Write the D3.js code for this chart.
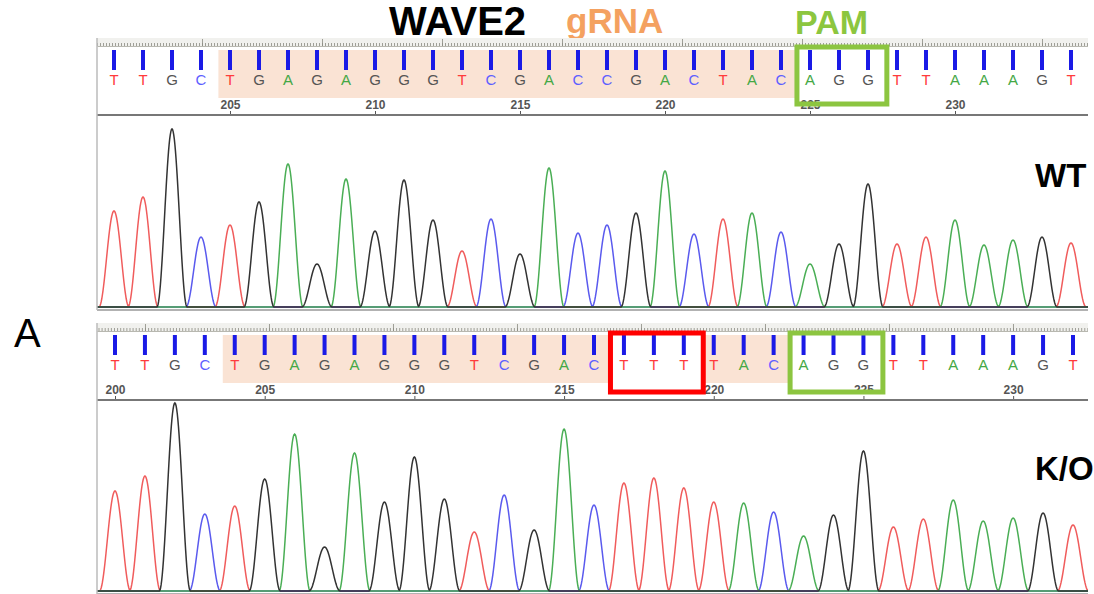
<!DOCTYPE html>
<html>
<head>
<meta charset="utf-8">
<script src="https://cdn.jsdelivr.net/npm/d3@7"></script>
<style>
body { margin: 0; background: #fff; }
svg { display: block; font-family: "Liberation Sans", Arial, sans-serif; }
</style>
</head>
<body>
<svg id="chart" width="1094" height="594"></svg>
<script>
// base calls and peak heights (arbitrary signal units)
var wtBases = "TTGCTGAGAGGGTCGACCGACTACAGGTTAAAGT".split("");
var wtHeights = [96, 110, 178, 70, 82, 105, 143, 43, 128, 76, 127, 87, 56, 88, 53, 139, 74,
                 82, 94, 136, 73, 88, 94, 75, 43, 63, 123, 63, 70, 87, 62, 67, 70, 64];
var wtStart = 201;
var wtTicks = [205, 210, 215, 220, 225, 230, 235];
var wtGuide = [[205, 224]];
var wtPam = [225, 227];

var koBases = "TTGCTGAGAGGGTCGACTTTTACAGGTTAAAGT".split("");
var koHeights = [100, 115, 188, 77, 85, 112, 157, 44, 138, 89, 134, 92, 59, 96, 61, 162, 86,
                 108, 113, 103, 89, 88, 79, 55, 76, 140, 64, 72, 91, 70, 73, 78, 66];
var koStart = 200;
var koTicks = [200, 205, 210, 215, 220, 225, 230];
var koGuide = [[204, 216], [220, 222]];
var koPam = [223, 225];
var koEdit = [217, 219];

var traceColor = {A: "#4aae55", C: "#5a5aee", G: "#333333", T: "#f05c5c"};
var letterColor = {A: "#45a845", C: "#5f5fff", G: "#555555", T: "#ff3b3b"};
var left = 97, right = 1088;

var svg = d3.select("#chart");

// titles
svg.append("text").attr("x", 389).attr("y", 35)
    .attr("font-size", 40).attr("font-weight", "bold").attr("fill", "#000")
    .text("WAVE2");
svg.append("text").attr("x", 566).attr("y", 33)
    .attr("font-size", 35).attr("font-weight", "bold").attr("fill", "#f4a160")
    .text("gRNA");
svg.append("text").attr("x", 795).attr("y", 34)
    .attr("font-size", 34).attr("font-weight", "bold").attr("fill", "#8cc63f")
    .text("PAM");
svg.append("text").attr("x", 14).attr("y", 347)
    .attr("font-size", 40).attr("fill", "#000")
    .text("A");

var panels = [
    {name: "wt", label: "WT", bases: wtBases, heights: wtHeights, start: wtStart, ticks: wtTicks,
     guide: wtGuide, pam: wtPam, edit: null, top: 42, base: 307, x0: 114, x1: 1071,
     box: [47, 104], scan0: 2912.5, pxPerScan: 1.2, labelY: 187},
    {name: "ko", label: "K/O", bases: koBases, heights: koHeights, start: koStart, ticks: koTicks,
     guide: koGuide, pam: koPam, edit: koEdit, top: 327, base: 591, x0: 115, x1: 1073,
     box: [333, 392], scan0: 2861.3, pxPerScan: 1.24, labelY: 480}
];

panels.forEach(drawPanel);

function drawPanel(p) {
    var T = p.top;
    var n = p.bases.length;
    var x = d3.scaleLinear().domain([p.start, p.start + n - 1]).range([p.x0, p.x1]);
    var y = d3.scaleLinear().domain([0, 200]).range([p.base, p.base - 200]);
    var sx = d3.scaleLinear()
        .domain([p.scan0, p.scan0 + (right - left) / p.pxPerScan])
        .range([left, right]);

    svg.append("clipPath").attr("id", "clip-" + p.name)
        .append("rect")
        .attr("x", left).attr("y", T - 6)
        .attr("width", right - left).attr("height", p.base - T + 10);

    var g = svg.append("g").attr("clip-path", "url(#clip-" + p.name + ")");

    // gRNA shading
    g.selectAll(".guide").data(p.guide).enter().append("rect")
        .attr("fill", "#fae3d4")
        .attr("x", function(d) { return x(d[0] - 0.4); })
        .attr("width", function(d) { return x(d[1] + 0.5) - x(d[0] - 0.4); })
        .attr("y", T + 8)
        .attr("height", 48);

    // scan ruler on top
    var sd = sx.domain();
    var minor = d3.range(Math.ceil(sd[0] / 2.5) * 2.5, sd[1], 2.5);
    var major = d3.range(Math.ceil(sd[0] / 100) * 100, sd[1], 100);
    g.append("rect").attr("x", left).attr("y", T - 4)
        .attr("width", right - left).attr("height", 8).attr("fill", "#f1f1ee");
    var r1 = g.append("g").attr("transform", "translate(0," + (T + 4) + ")")
        .call(d3.axisTop(sx).tickValues(minor).tickSize(3).tickSizeOuter(0).tickFormat(""));
    var r2 = g.append("g").attr("transform", "translate(0," + (T + 4) + ")")
        .call(d3.axisTop(sx).tickValues(major).tickSize(7).tickSizeOuter(0).tickFormat(""));
    [r1, r2].forEach(function(r) {
        r.selectAll(".tick line").attr("stroke", "#8a8a80").attr("stroke-width", 0.8);
        r.select(".domain").attr("stroke", "#b8b8b0");
    });

    // base call stems
    g.selectAll(".stem").data(p.bases).enter().append("rect")
        .attr("x", function(d, i) { return x(p.start + i) - 2; })
        .attr("y", T + 8)
        .attr("width", 4)
        .attr("height", 20)
        .attr("fill", "#1a1ae6");

    // base letters
    g.selectAll(".base").data(p.bases).enter().append("text")
        .attr("x", function(d, i) { return x(p.start + i); })
        .attr("y", T + 43)
        .attr("text-anchor", "middle")
        .attr("font-size", 15)
        .attr("fill", function(d) { return letterColor[d]; })
        .text(function(d) { return d; });

    // position axis
    var ax = g.append("g").attr("transform", "translate(0," + (T + 73) + ")")
        .call(d3.axisTop(x).tickValues(p.ticks).tickSize(4).tickPadding(2).tickSizeOuter(0));
    ax.select(".domain").remove();
    ax.selectAll(".tick line").attr("stroke", "#555");
    ax.selectAll(".tick text")
        .attr("font-size", 12).attr("font-weight", "bold").attr("fill", "#555")
        .attr("font-family", "\"Liberation Sans\", Arial, sans-serif");
    g.append("line").attr("x1", left).attr("x2", right)
        .attr("y1", T + 73).attr("y2", T + 73)
        .attr("stroke", "#777").attr("stroke-width", 2);

    // traces: each peak is a raised-cosine bump around its base call
    var halfWidth = 0.52;
    var samples = d3.range(p.start - 2, p.start + n + 1, 0.02);
    ["T", "C", "A", "G"].forEach(function(b) {
        var pts = samples.map(function(pos) {
            var v = 0;
            p.bases.forEach(function(c, i) {
                if (c !== b) return;
                var dx = Math.abs(pos - (p.start + i));
                if (dx < halfWidth) {
                    var k = Math.cos(Math.PI * dx / (2 * halfWidth));
                    v += p.heights[i] * k * k;
                }
            });
            return {pos: pos, v: v};
        });
        g.append("path")
            .datum(pts)
            .attr("fill", "none")
            .attr("stroke", traceColor[b])
            .attr("stroke-width", 1.5)
            .attr("d", d3.line()
                .x(function(d) { return x(d.pos); })
                .y(function(d) { return y(d.v); }));
    });

    // panel frame
    g.append("line").attr("x1", left).attr("x2", right)
        .attr("y1", p.base + 3).attr("y2", p.base + 3)
        .attr("stroke", "#999").attr("stroke-width", 1.5);
    svg.append("line").attr("x1", left).attr("x2", left)
        .attr("y1", T - 4).attr("y2", p.base + 3)
        .attr("stroke", "#bbb").attr("stroke-width", 1.5);

    // boxes: PAM (green) and edited bases (red)
    var boxes = [{r: p.pam, c: "#8cc540"}];
    if (p.edit) boxes.push({r: p.edit, c: "#ff0000"});
    svg.selectAll(".box-" + p.name).data(boxes).enter().append("rect")
        .attr("x", function(d) { return x(d.r[0] - 0.45); })
        .attr("width", function(d) { return x(d.r[1] + 0.65) - x(d.r[0] - 0.45); })
        .attr("y", p.box[0])
        .attr("height", p.box[1] - p.box[0])
        .attr("fill", "none")
        .attr("stroke", function(d) { return d.c; })
        .attr("stroke-width", 5);

    svg.append("text").attr("x", 1035).attr("y", p.labelY)
        .attr("font-size", 33).attr("font-weight", "bold").attr("fill", "#000")
        .text(p.label);
}
</script>
</body>
</html>
